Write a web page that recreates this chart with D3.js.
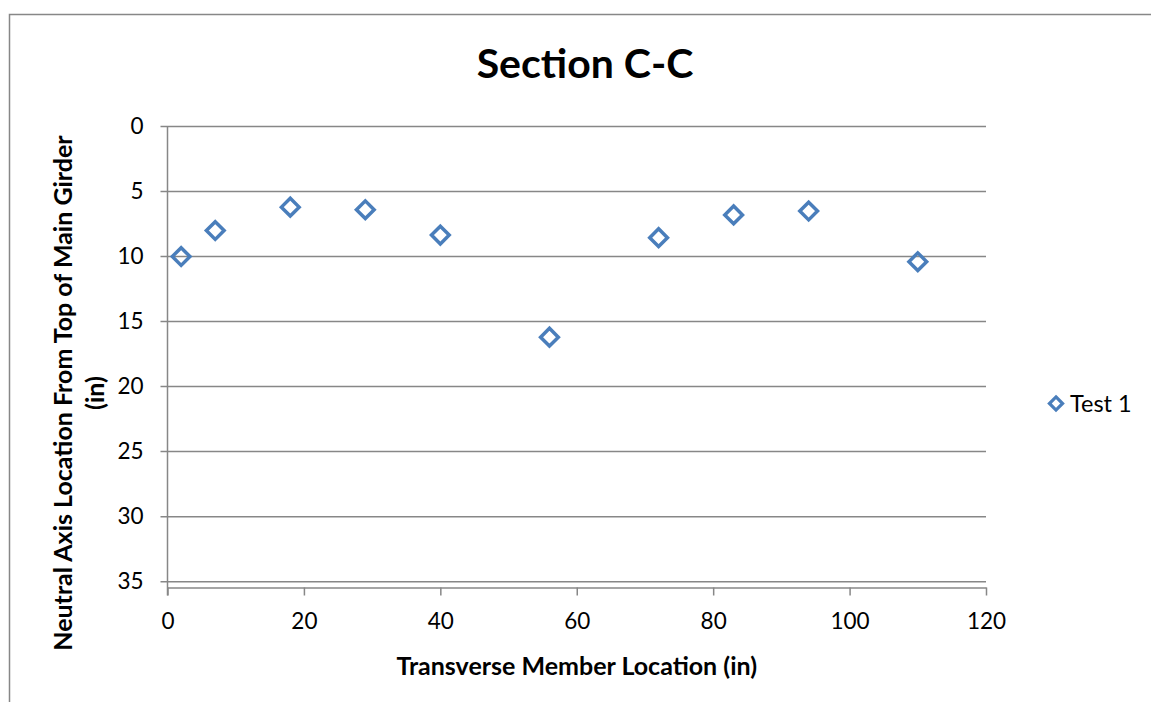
<!DOCTYPE html>
<html>
<head>
<meta charset="utf-8">
<script src="https://cdn.jsdelivr.net/npm/d3@7"></script>
<style>
  body { margin: 0; background: #fff; }
  svg { display: block; font-family: Lato, "Open Sans", sans-serif; }
</style>
</head>
<body>
<script>
// data
const seriesName = "Test 1";
const locations = [2, 7, 18, 29, 40, 56, 72, 83, 94, 110];
const depths = [10, 8, 6.2, 6.4, 8.35, 16.2, 8.55, 6.8, 6.5, 10.4];
const xTicks = [0, 20, 40, 60, 80, 100, 120];
const yTicks = [0, 5, 10, 15, 20, 25, 30, 35];

const W = 1151, H = 702;
const margin = {top: 126.5, left: 167.5, right: 165, bottom: 114.5};
const blue = "#4a7ebb", grey = "#878787";

const svg = d3.select("body").append("svg")
    .attr("width", W)
    .attr("height", H);

// chart border
svg.append("rect")
    .attr("x", 9.5).attr("y", 14.5)
    .attr("width", W).attr("height", H)
    .attr("fill", "none")
    .attr("stroke", grey)
    .attr("stroke-width", 1.5);

let x = d3.scaleLinear()
    .domain([0, 120])
    .range([margin.left, W - margin.right]);

// reversed axis, x axis sits slightly below the 35 line
let y = d3.scaleLinear()
    .domain([0, 35.45])
    .range([margin.top, H - margin.bottom]);

// gridlines
svg.append("g")
    .selectAll("line")
    .data(yTicks)
    .enter().append("line")
    .attr("x1", margin.left - 7)
    .attr("x2", x(120))
    .attr("y1", d => y(d))
    .attr("y2", d => y(d))
    .attr("stroke", grey)
    .attr("stroke-width", 1.5);

let yAxis = d3.axisLeft(y).tickValues(yTicks).tickSize(0).tickPadding(24);
let gy = svg.append("g")
    .attr("transform", "translate(" + margin.left + ",0)")
    .call(yAxis);
gy.select(".domain")
    .attr("d", "M0," + y(0) + "V" + (y.range()[1] + 8))
    .attr("stroke", grey).attr("stroke-width", 1.5);
gy.selectAll("text").attr("font-size", 22.5).attr("font-family", null).attr("fill", "#000");

let xAxis = d3.axisBottom(x).tickValues(xTicks).tickSize(8).tickSizeOuter(0).tickPadding(18);
let gx = svg.append("g")
    .attr("transform", "translate(0," + y.range()[1] + ")")
    .call(xAxis);
gx.select(".domain").attr("stroke", grey).attr("stroke-width", 1.5);
gx.selectAll(".tick line").attr("stroke", grey).attr("stroke-width", 1.5);
gx.selectAll("text").attr("font-size", 22.5).attr("font-family", null).attr("fill", "#000");
svg.selectAll(".tick text").attr("font-family", null);
svg.selectAll("g").filter(function () { return this.getAttribute("font-family"); })
    .attr("font-family", null).attr("font-size", null);

// markers
let diamond = d3.symbol().type(d3.symbolDiamond2).size(200);
svg.append("g")
    .selectAll("path")
    .data(locations.map((d, i) => [d, depths[i]]))
    .enter().append("path")
    .attr("d", diamond)
    .attr("transform", d => "translate(" + x(d[0]) + "," + y(d[1]) + ")")
    .attr("fill", "none")
    .attr("stroke", blue)
    .attr("stroke-width", 3.5);

// title
svg.append("text")
    .attr("x", 585).attr("y", 78)
    .attr("text-anchor", "middle")
    .attr("font-size", 41)
    .attr("font-weight", "bold")
    .text("Section C-C");

svg.append("text")
    .attr("x", x(60)).attr("y", 675)
    .attr("text-anchor", "middle")
    .attr("font-size", 25)
    .attr("font-weight", "bold")
    .text("Transverse Member Location (in)");

let ytitle = svg.append("text")
    .attr("transform", "translate(72,393) rotate(-90)")
    .attr("text-anchor", "middle")
    .attr("font-size", 25)
    .attr("font-weight", "bold");
ytitle.append("tspan").attr("x", 0).attr("y", 0).text("Neutral Axis Location From Top of Main Girder");
ytitle.append("tspan").attr("x", 0).attr("y", 32).text("(in)");

// legend
let legend = svg.append("g").attr("transform", "translate(1056,403.5)");
legend.append("path")
    .attr("d", d3.symbol().type(d3.symbolDiamond2).size(110))
    .attr("fill", "none")
    .attr("stroke", blue)
    .attr("stroke-width", 3.2);
legend.append("text")
    .attr("x", 14).attr("y", 8)
    .attr("font-size", 23.5)
    .text(seriesName);
</script>
</body>
</html>
